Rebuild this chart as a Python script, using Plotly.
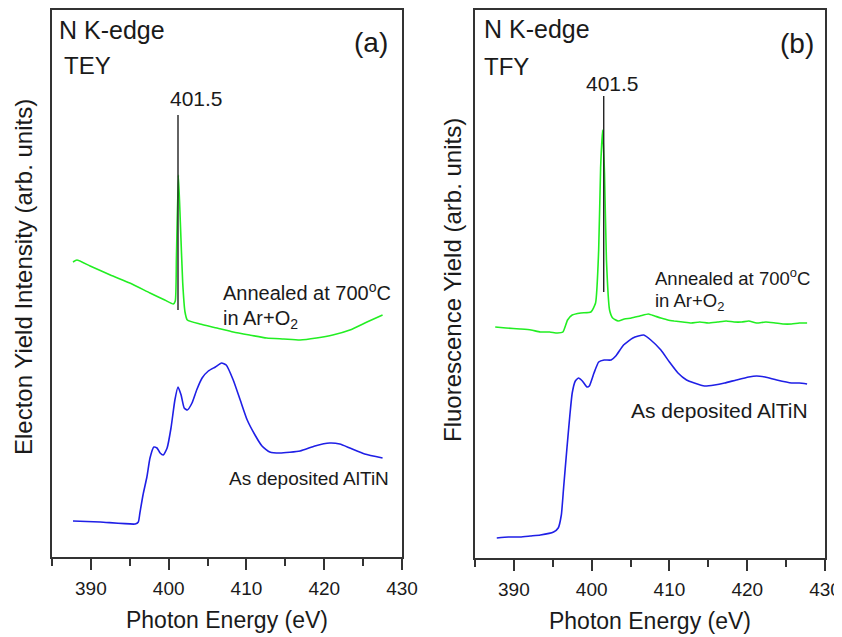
import plotly.graph_objects as go

OFF = 8  # page body margin in the browser
W, H = 842 - OFF, 637 - OFF

# ---- data (panel a: TEY) ----
tey_ann_x = [387.7, 388.2, 389.9, 392.5, 395.0, 397.6, 399.5, 400.6, 400.85, 401.0, 401.25,
             401.5, 401.8, 402.1, 402.4, 404.0, 406.2, 408.3, 410.4, 412.6, 414.8, 416.9,
             419.0, 421.1, 423.3, 425.5, 427.5]
tey_ann_y = [295, 297, 291, 282, 274, 264, 257, 253, 256, 300, 382,
             335, 275, 245, 237, 233, 229, 225, 222, 219, 218, 217,
             219, 222, 227, 235, 242]
tey_dep_x = [387.7, 391.2, 395.7, 396.1, 396.3, 396.7, 397.2, 397.6, 398.1, 398.5, 398.9,
             399.3, 399.8, 400.3, 400.8, 401.2, 401.6, 402.0, 402.4, 403.0, 403.6, 404.3,
             405.1, 406.0, 406.8, 407.4, 408.3, 409.2, 410.1, 411.1, 412.0, 413.0, 414.3,
             416.9, 418.8, 420.7, 422.0, 423.3, 425.2, 427.5]
tey_dep_y = [36, 35, 33, 35, 44, 62, 80, 99, 110, 109, 104,
             102, 109, 129, 157, 170, 162, 149, 147, 154, 167, 179,
             186, 190, 194, 192, 177, 157, 137, 122, 111, 105, 104,
             106, 111, 114, 113, 109, 103, 99]

# ---- data (panel b: TFY) ----
tfy_ann_x = [387.6, 389.0, 390.8, 392.2, 393.4, 394.6, 395.6, 396.3, 396.9, 397.5, 398.6,
             399.9, 400.5, 400.9, 401.15, 401.4, 401.65, 401.9, 402.3, 402.7, 403.4,
             404.2, 405.1, 406.2, 407.3, 408.1, 408.9, 409.8, 410.6, 411.7, 412.8, 413.9,
             415.0, 416.2, 417.3, 418.3, 419.3, 420.2, 421.2, 422.4, 423.6, 424.6, 425.7,
             426.7, 427.7]
tfy_ann_y = [231, 230, 229, 228, 226, 226, 225, 226, 238, 243, 245,
             246, 255, 308, 390, 428, 385, 298, 248, 240, 237,
             239, 240, 242, 244, 242, 240, 238, 237, 236, 235, 236,
             235, 236, 237, 236, 236, 237, 235, 236, 235, 234, 234,
             235, 235]
tfy_dep_x = [387.8, 389.3, 390.8, 392.1, 393.4, 395.1, 395.7, 396.1, 396.4, 396.8, 397.2,
             397.5, 397.9, 398.3, 398.8, 399.4, 399.7, 400.3, 400.9, 401.6, 402.5, 403.1,
             404.1, 405.3, 406.7, 407.6, 408.9, 410.0, 411.1, 412.2, 413.2, 414.5, 415.8,
             417.1, 418.6, 420.2, 421.2, 422.3, 423.8, 425.7, 426.7, 427.7]
tfy_dep_y = [20, 21, 21, 22, 23, 26, 30, 43, 71, 108, 143,
             165, 177, 180, 177, 171, 172, 185, 196, 198, 198, 202,
             213, 220, 223, 218, 208, 196, 185, 178, 175, 172, 173,
             175, 178, 181, 182, 181, 178, 175, 175, 174]

# marker lines at 401.5 eV
mark_a_x = [401.2, 401.2]
mark_a_y = [247, 442]
mark_b_x = [401.55, 401.55]
mark_b_y = [266, 462]

x_ticks = [390, 400, 410, 420, 430]

GREEN = "#22ee22"
BLUE = "#1f1fe6"
TXT = "#1a1a1a"
FONT = "Liberation Sans, Arial, sans-serif"

fig = go.Figure()

def add_line(x, y, color, xa, ya, width=1.6):
    fig.add_trace(go.Scatter(x=x, y=y, mode="lines",
                             line=dict(color=color, width=width, shape="spline", smoothing=0.5),
                             xaxis=xa, yaxis=ya, showlegend=False, hoverinfo="skip"))

add_line(tey_ann_x, tey_ann_y, GREEN, "x", "y")
add_line(tey_dep_x, tey_dep_y, BLUE, "x", "y")
add_line(tfy_ann_x, tfy_ann_y, GREEN, "x2", "y2")
add_line(tfy_dep_x, tfy_dep_y, BLUE, "x2", "y2")
fig.add_trace(go.Scatter(x=mark_a_x, y=mark_a_y, mode="lines", line=dict(color="#222", width=1.4),
                         xaxis="x", yaxis="y", showlegend=False, hoverinfo="skip"))
fig.add_trace(go.Scatter(x=mark_b_x, y=mark_b_y, mode="lines", line=dict(color="#222", width=1.4),
                         xaxis="x2", yaxis="y2", showlegend=False, hoverinfo="skip"))

def px_x(p):
    return min(1.0, max(0.0, (p - OFF) / W))

def px_y(p):
    return min(1.0, max(0.0, 1 - (p - OFF) / H))

def xax(domain, anchor):
    return dict(domain=domain, anchor=anchor, range=[385, 430], tickvals=x_ticks,
                automargin=False,
                ticks="outside", ticklen=11, tickwidth=1.6, tickcolor="#333",
                ticklabelstandoff=2,
                minor=dict(dtick=5, tick0=385, ticks="outside", ticklen=7, tickwidth=1.6, tickcolor="#333"),
                showline=True, linecolor="#333", linewidth=1.8, mirror=True,
                showgrid=False, zeroline=False,
                tickfont=dict(family=FONT, size=19, color=TXT),
                title=dict(text="Photon Energy (eV)", font=dict(family=FONT, size=23, color=TXT), standoff=14))

def yax(domain, anchor, top):
    return dict(domain=domain, anchor=anchor, range=[0, top], showticklabels=False, ticks="",
                automargin=False,
                showline=True, linecolor="#333", linewidth=1.8, mirror=True,
                showgrid=False, zeroline=False)

fig.update_layout(
    template="none",
    width=W, height=H,
    margin=dict(l=0, r=0, t=0, b=0, autoexpand=False),
    paper_bgcolor="white", plot_bgcolor="white",
    xaxis=xax([px_x(52), px_x(402)], "y"),
    yaxis=yax([px_y(557), px_y(10)], "x", 547),
    xaxis2=xax([px_x(475), px_x(825)], "y2"),
    yaxis2=yax([px_y(558), px_y(10)], "x2", 548),
)

def ann(text, x, y, xa, ya, size, xanchor="left"):
    fig.add_annotation(text=text, x=x, y=y, xref=xa, yref=ya, showarrow=False,
                       xanchor=xanchor, yanchor="middle",
                       font=dict(family=FONT, size=size, color=TXT))

# panel a
ann("N K-edge", 385.7, 527, "x", "y", 25)
ann("TEY", 386.3, 492, "x", "y", 24)
ann("(a)", 428.4, 515, "x", "y", 28, "right")
ann("401.5", 403.6, 459, "x", "y", 21, "center")
ann("Annealed at 700<sup>o</sup>C", 406.7, 266, "x", "y", 20)
ann("in Ar+O<sub>2</sub>", 406.7, 238, "x", "y", 20)
ann("As deposited AlTiN", 407.5, 79, "x", "y", 19)
# panel b
ann("N K-edge", 385.9, 529, "x2", "y2", 25)
ann("TFY", 385.9, 492, "x2", "y2", 24)
ann("(b)", 428.8, 515, "x2", "y2", 28, "right")
ann("401.5", 402.7, 475, "x2", "y2", 21, "center")
ann("Annealed at 700<sup>o</sup>C", 407.9, 281, "x2", "y2", 18.5)
ann("in Ar+O<sub>2</sub>", 407.9, 256, "x2", "y2", 18.5)
ann("As deposited AlTiN", 404.8, 148, "x2", "y2", 21)

# y-axis titles
for text, px, py in [("Electon Yield Intensity (arb. units)", 23, 277),
                     ("Fluorescence Yield (arb. units)", 452, 280)]:
    fig.add_annotation(text=text, x=px_x(px), y=px_y(py), xref="paper", yref="paper",
                       showarrow=False, textangle=-90, xanchor="center", yanchor="middle",
                       font=dict(family=FONT, size=24, color=TXT))

fig.write_html("out.html")
